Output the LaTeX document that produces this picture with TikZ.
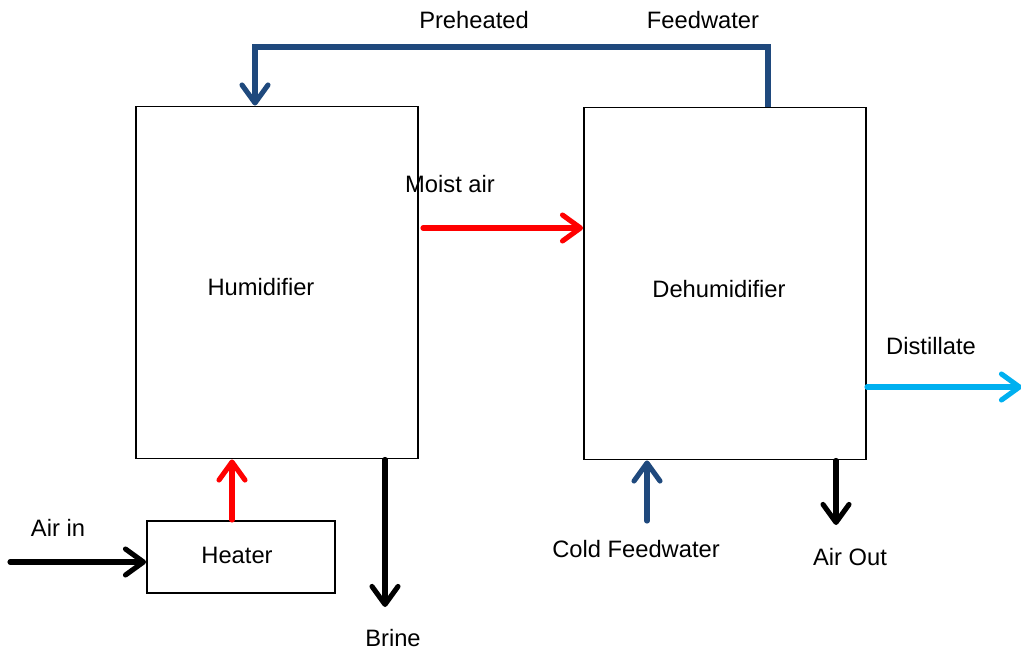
\documentclass[tikz,border=0pt]{standalone}
\usepackage{fontspec}
\setmainfont{Liberation Sans}
\usetikzlibrary{positioning,calc,arrows.meta}
\definecolor{darkblue}{RGB}{31,73,125}
\definecolor{lightblue}{RGB}{0,176,240}
\tikzset{
    every node/.style={font=\fontsize{13.5}{16}\selectfont},
    unit/.style={draw, line width=1.1pt, minimum width=5.64cm, minimum height=7.04cm},
    heatbox/.style={draw, line width=1.1pt, minimum width=3.76cm, minimum height=1.44cm},
    arrow/.style={-{Straight Barb[length=3.6mm, width=5.2mm, round]}, line width=2.9pt, line cap=round},
}

\begin{document}
\begin{tikzpicture}
  \useasboundingbox (0,0) rectangle (20.42,13.04);
  % units
  \node[unit] (humid) at (5.54,7.39) {};
  \node[unit] (dehum) at (14.5,7.37) {};
  \node[heatbox] (heater) at (4.82,1.9) {};
  \node (lhumid) at ($(humid)+(-0.32,-0.1)$) {Humidifier};
  \node (ldehum) at ($(dehum)+(-0.12,-0.12)$) {Dehumidifier};
  \node (lheat) at ($(heater)+(-0.08,0.04)$) {Heater};
  % free ends
  \coordinate (ma) at ($(humid.east)+(0.08,1.09)$);
  \coordinate (dist) at (20.44,5.3);
  \coordinate (airin) at (0.2,1.8);
  \coordinate (brine) at (7.7,0.9);
  \coordinate (cold) at (12.94,2.62);
  \coordinate (airout) at (16.72,2.54);
  \coordinate (fwtop) at (15.36,12.1);
  \coordinate (fwin) at (5.1,12.1);
  \coordinate (heatup) at ($(heater.north)+(-0.18,0)$);
    \draw[arrow, darkblue, line cap=butt] (fwtop |- dehum.north) -- (fwtop) -- (fwin) -- (fwin |- humid.north);
    \draw[arrow, red] (ma) -- (ma -| dehum.west);
    \draw[arrow, lightblue] (dehum.east |- dist) -- (dist);
    \draw[arrow, red] (heatup) -- (heatup |- humid.south);
    \draw[arrow] (airin) -- (airin -| heater.west);
    \draw[arrow] (brine |- humid.south) -- (brine);
    \draw[arrow, darkblue] (cold) -- (cold |- dehum.south);
    \draw[arrow] (airout |- dehum.south) -- (airout);
  % labels
  \node (lpre) at (9.48,12.64) {Preheated};
  \node (lfw) at (14.06,12.64) {Feedwater};
  \node (lma) at (9.0,9.36) {Moist air};
  \node (ldist) at (18.62,6.12) {Distillate};
  \node (lair) at (1.16,2.48) {Air in};
  \node (lbrine) at (7.86,0.28) {Brine};
  \node (lcold) at (12.72,2.06) {Cold Feedwater};
  \node (lout) at (17.0,1.9) {Air Out};
\end{tikzpicture}
\end{document}
